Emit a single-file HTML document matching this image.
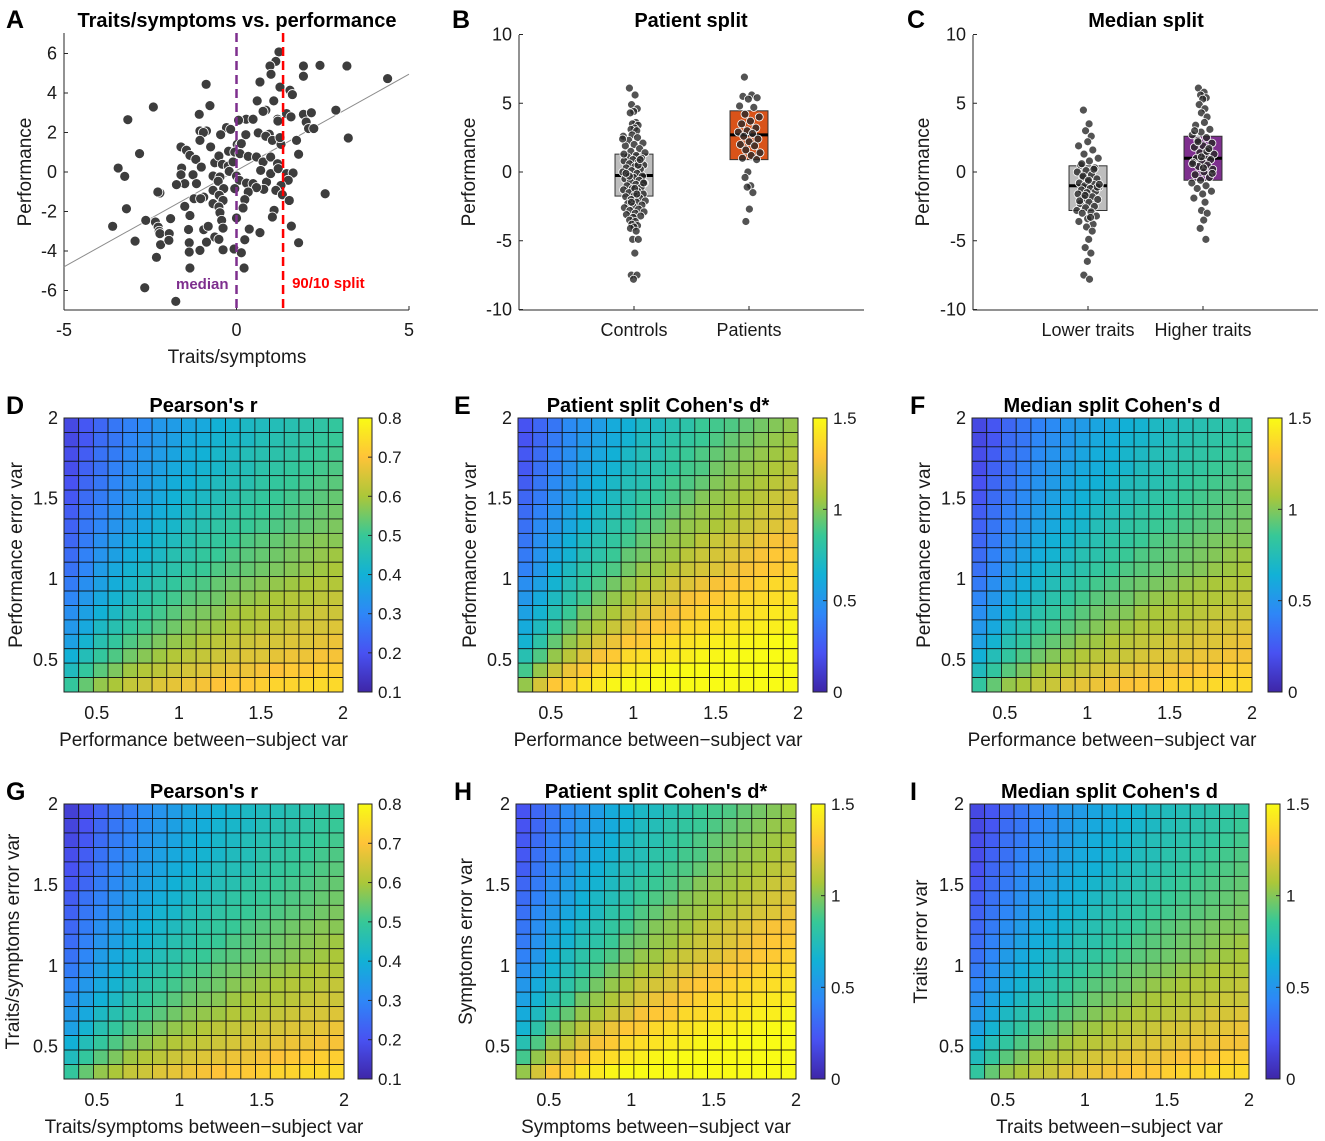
<!DOCTYPE html>
<html><head><meta charset="utf-8"><style>
html,body{margin:0;padding:0;background:#fff;}
svg{display:block;font-family:"Liberation Sans",Arial,sans-serif;}
</style></head><body>
<svg id="fig" width="1325" height="1141" viewBox="0 0 1325 1141" xmlns="http://www.w3.org/2000/svg"></svg>
<script>
// ---------- Panel A data ----------
const aX=[1.23,1.14,0.97,1.94,2.42,3.2,4.38,1.0,0.68,1.26,1.94,1.55,1.62,-0.88,-2.41,-3.15,-0.77,-1.08,0.6,1.08,0.85,0.77,1.45,1.58,1.94,2.17,2.88,2.02,2.09,2.24,3.24,1.19,1.2,0.28,0.48,0.06,-0.29,-0.17,-0.87,-1.06,-0.96,-0.46,0.27,0.63,0.95,0.85,1.74,-1.06,-1.61,-1.45,-0.75,0.02,0.1,0.14,1.04,1.29,1.26,-2.81,-1.35,-1.18,-1.02,-0.63,-0.51,-0.23,-0.05,0.1,0.34,0.58,0.77,0.99,1.19,1.8,-0.41,-0.24,-0.1,-3.43,-3.24,-1.59,-1.61,-1.26,-1.5,-1.74,-1.16,-0.68,-0.48,-0.53,-0.37,-0.21,0,0.08,0.29,0.48,0.7,0.87,0.99,1.21,1.45,1.64,1.5,1.29,1.14,0.79,0.58,0.34,-0.05,-0.68,-0.95,-1.23,-1.04,-0.5,-0.39,0.24,1.33,1.53,-2.22,-2.28,-1.5,-0.68,-0.51,-0.48,0.19,1.09,1.04,-3.19,-1.35,-1.91,-2.63,-2.35,-2.27,-2.24,-2.22,-1.95,-2.2,-1.96,-1.39,-0.95,-0.82,-0.43,-0.39,0,0.68,1.59,0.37,-0.63,-0.51,-0.87,-1.37,-3.59,-2.94,-1.06,-1.37,-0.39,-0.07,0.14,0.24,1.8,-2.32,-1.35,0.22,-2.66,-1.76,2.57];
const aY=[6.08,5.6,5.37,5.37,5.4,5.37,4.73,4.95,4.56,4.3,4.85,4.14,3.92,4.44,3.29,2.65,3.36,2.92,3.6,3.6,3.13,3.07,2.96,2.79,2.92,3.0,3.13,2.53,2.2,2.2,1.72,2.67,2.58,2.67,2.67,2.62,2.25,2.16,2.08,2.08,2.0,1.89,1.89,1.98,1.91,1.81,1.6,1.6,1.27,1.1,1.27,1.4,1.35,1.44,1.6,1.4,1.74,0.93,0.84,0.64,0.25,0.47,0.81,1.05,1.01,0.93,0.79,0.76,0.51,0.76,0.42,0.9,0.39,0.3,0.51,0.2,-0.22,0.2,-0.14,-0.14,-0.59,-0.64,-0.59,-0.2,-0.25,-0.47,-0.84,0.03,-0.2,-0.42,-0.56,-0.59,0.08,-0.51,-0.08,0.17,-0.08,-0.05,-0.42,-0.68,-0.93,-0.88,-0.79,-1.01,-0.84,-0.93,-1.27,-1.35,-1.35,-1.18,-1.44,-1.4,-1.15,-1.44,-1.06,-1.01,-1.74,-1.6,-1.77,-2.06,-1.82,-1.94,-2.28,-1.86,-2.2,-2.36,-2.45,-2.53,-2.79,-3.0,-3.12,-3.12,-3.68,-3.46,-2.91,-2.92,-2.75,-2.45,-2.84,-2.33,-3.07,-2.74,-2.89,-3.29,-3.41,-3.55,-3.58,-2.75,-3.5,-3.97,-4.05,-3.94,-3.9,-4.09,-3.43,-3.58,-4.32,-4.86,-4.86,-5.86,-6.55,-1.1];
const aLineX=[-5,5];
const aLineY=[-4.8,4.95];
const aMedianX=0;
const aSplitX=1.35;
const aXTicks=[-5,0,5];
const aYTicks=[-6,-4,-2,0,2,4,6];

// ---------- Panel B/C data ----------
const groupTicks=[-10,-5,0,5,10];
const bCategories=["Controls","Patients"];
const bControls=[6.1,5.6,4.9,4.6,4.4,4.3,3.6,3.5,3.4,3.2,3.1,3.0,2.7,2.6,2.5,2.3,2.1,2.0,1.9,1.7,1.5,1.4,1.2,1.1,1.0,0.9,0.8,0.7,0.6,0.5,0.4,0.3,0.2,0.1,0.0,-0.1,-0.2,-0.3,-0.4,-0.5,-0.6,-0.7,-0.8,-0.9,-1.0,-1.1,-1.2,-1.3,-1.4,-1.5,-1.6,-1.7,-1.8,-1.9,-2.0,-2.1,-2.2,-2.3,-2.4,-2.5,-2.6,-2.7,-2.8,-2.9,-3.0,-3.1,-3.2,-3.3,-3.5,-3.6,-3.8,-3.9,-4.0,-4.1,-4.3,-4.9,-4.9,-5.9,-7.5,-7.5,-7.8,1.3,0.5,-0.3,-0.8,-1.2,-0.1,0.9,-2.2,2.4,-1.6];
const bPatients=[6.9,5.6,5.5,5.4,5.3,4.8,4.7,4.2,4.0,3.7,3.5,3.2,3.0,2.9,2.8,2.6,2.4,2.2,2.0,1.9,1.6,1.4,1.2,1.0,0.9,0.0,-0.4,-1.0,-1.1,-1.5,-2.7,-3.6];
const bBoxQ1=[-1.75,0.9];
const bBoxMed=[-0.25,2.7];
const bBoxQ3=[1.3,4.45];
const cCategories=["Lower traits","Higher traits"];
const cLower=[4.5,3.5,3.0,2.6,2.2,1.9,1.6,1.3,1.0,0.8,0.5,0.3,0.1,0.0,-0.2,-0.4,-0.5,-0.7,-0.8,-0.9,-1.0,-1.1,-1.2,-1.3,-1.4,-1.5,-1.6,-1.8,-1.9,-2.0,-2.2,-2.3,-2.5,-2.6,-2.8,-2.9,-3.0,-3.2,-3.4,-3.6,-3.8,-4.0,-4.3,-4.9,-5.5,-5.9,-6.5,-7.5,-7.8,-0.3,-1.1,-0.6,-2.1,0.2,-1.7,-0.9,-3.3,0.6];
const cHigher=[6.1,5.8,5.6,5.4,5.3,4.9,4.6,4.3,4.0,3.6,3.4,3.1,2.9,2.7,2.5,2.3,2.1,1.9,1.8,1.6,1.4,1.3,1.2,1.0,0.9,0.8,0.7,0.5,0.4,0.2,0.0,-0.2,-0.4,-0.6,-0.8,-1.0,-1.2,-1.4,-1.6,-1.9,-2.2,-2.8,-3.0,-3.5,-4.1,-4.9,1.1,0.6,1.5,2.2,-0.1,0.3,3.0,1.7];
const cBoxQ1=[-2.8,-0.6];
const cBoxMed=[-1.0,1.0];
const cBoxQ3=[0.45,2.6];

// ---------- Heatmap data (rows top = var 2 to bottom = var 0.3) ----------
const heatAxisTicks=[0.5,1,1.5,2];
const rTicks=[0.1,0.2,0.3,0.4,0.5,0.6,0.7,0.8];
const dTicks=[0,0.5,1,1.5];
const dVals=[
[.18,.21,.24,.27,.29,.31,.34,.35,.37,.38,.40,.41,.43,.44,.45,.46,.47,.48,.49],
[.18,.21,.25,.27,.30,.32,.34,.36,.38,.39,.41,.42,.43,.45,.46,.47,.48,.49,.50],
[.19,.22,.26,.28,.31,.33,.35,.37,.39,.40,.42,.43,.45,.46,.47,.48,.49,.50,.51],
[.19,.23,.26,.29,.32,.34,.36,.38,.39,.41,.42,.44,.45,.47,.48,.49,.50,.51,.52],
[.20,.24,.27,.30,.33,.35,.37,.39,.40,.42,.44,.45,.46,.48,.49,.50,.51,.52,.53],
[.21,.25,.28,.31,.34,.36,.38,.40,.42,.43,.45,.46,.48,.49,.50,.51,.52,.53,.54],
[.22,.26,.29,.32,.35,.37,.39,.41,.43,.45,.46,.48,.49,.50,.51,.52,.53,.54,.55],
[.23,.27,.30,.33,.36,.38,.41,.42,.45,.46,.48,.49,.50,.51,.52,.53,.54,.55,.56],
[.24,.28,.32,.35,.38,.40,.42,.44,.46,.48,.49,.50,.52,.53,.54,.55,.56,.57,.57],
[.25,.29,.33,.36,.39,.41,.43,.46,.47,.49,.50,.52,.53,.54,.55,.56,.57,.58,.59],
[.26,.30,.35,.38,.41,.43,.45,.47,.49,.50,.52,.53,.54,.55,.56,.57,.58,.59,.60],
[.28,.32,.36,.39,.42,.45,.47,.49,.51,.52,.54,.55,.56,.57,.58,.59,.60,.61,.61],
[.30,.34,.38,.41,.44,.47,.49,.51,.53,.54,.55,.57,.58,.59,.60,.61,.61,.62,.63],
[.32,.36,.40,.43,.47,.49,.51,.53,.55,.56,.57,.59,.60,.61,.61,.62,.63,.64,.64],
[.34,.38,.43,.46,.49,.51,.53,.55,.57,.58,.59,.61,.61,.62,.63,.64,.65,.65,.66],
[.36,.41,.46,.49,.52,.54,.56,.58,.59,.61,.62,.63,.64,.65,.65,.66,.66,.67,.68],
[.40,.45,.49,.52,.55,.57,.59,.61,.62,.63,.64,.65,.66,.66,.67,.68,.68,.69,.69],
[.44,.49,.53,.56,.59,.61,.62,.64,.65,.66,.67,.68,.68,.69,.70,.71,.71,.72,.72],
[.49,.54,.58,.60,.63,.64,.66,.67,.68,.69,.70,.71,.71,.72,.73,.73,.74,.74,.74]];
const eVals=[
[.22,.30,.36,.45,.49,.54,.61,.64,.70,.72,.77,.80,.86,.88,.90,.94,.97,1.00,1.03],
[.22,.30,.38,.45,.51,.56,.61,.66,.72,.75,.80,.83,.86,.90,.94,.97,1.00,1.03,1.05],
[.24,.32,.41,.47,.54,.59,.64,.70,.75,.77,.83,.86,.90,.94,.97,1.00,1.03,1.05,1.08],
[.24,.34,.41,.49,.56,.61,.66,.72,.75,.80,.83,.88,.90,.97,1.00,1.03,1.05,1.08,1.11],
[.26,.36,.45,.51,.59,.64,.70,.75,.77,.83,.88,.90,.94,1.00,1.03,1.05,1.08,1.11,1.15],
[.30,.38,.47,.54,.61,.66,.72,.77,.83,.86,.90,.94,1.00,1.03,1.05,1.08,1.11,1.15,1.18],
[.32,.41,.49,.56,.64,.70,.75,.80,.86,.90,.94,1.00,1.03,1.05,1.08,1.11,1.15,1.18,1.20],
[.34,.45,.51,.59,.66,.72,.80,.83,.90,.94,1.00,1.03,1.05,1.08,1.11,1.15,1.18,1.20,1.24],
[.36,.47,.56,.64,.72,.77,.83,.88,.94,1.00,1.03,1.05,1.11,1.15,1.18,1.20,1.24,1.27,1.27],
[.38,.49,.59,.66,.75,.80,.86,.94,.97,1.03,1.05,1.11,1.15,1.18,1.20,1.24,1.27,1.30,1.31],
[.41,.51,.64,.72,.80,.86,.90,.97,1.03,1.05,1.11,1.15,1.18,1.20,1.24,1.27,1.30,1.31,1.34],
[.47,.56,.66,.75,.83,.90,.97,1.03,1.08,1.11,1.18,1.20,1.24,1.27,1.30,1.31,1.34,1.37,1.37],
[.51,.61,.72,.80,.88,.97,1.03,1.08,1.15,1.18,1.20,1.27,1.30,1.31,1.34,1.37,1.37,1.39,1.41],
[.56,.66,.77,.86,.97,1.03,1.08,1.15,1.20,1.24,1.27,1.31,1.34,1.37,1.37,1.39,1.41,1.43,1.43],
[.61,.72,.86,.94,1.03,1.08,1.15,1.20,1.27,1.30,1.31,1.37,1.37,1.39,1.41,1.43,1.45,1.45,1.48],
[.66,.80,.94,1.03,1.11,1.18,1.24,1.30,1.31,1.37,1.39,1.41,1.43,1.45,1.45,1.48,1.48,1.50,1.52],
[.77,.90,1.03,1.11,1.20,1.27,1.31,1.37,1.39,1.41,1.43,1.45,1.48,1.48,1.50,1.52,1.52,1.55,1.55],
[.88,1.03,1.15,1.24,1.31,1.37,1.39,1.43,1.45,1.48,1.50,1.52,1.52,1.55,1.56,1.58,1.58,1.60,1.60],
[1.03,1.18,1.30,1.34,1.41,1.43,1.48,1.50,1.52,1.55,1.56,1.58,1.58,1.60,1.61,1.61,1.64,1.64,1.64]];
const fVals=[
[.17,.23,.30,.36,.41,.45,.51,.53,.58,.60,.64,.66,.71,.73,.75,.77,.79,.81,.83],
[.17,.23,.32,.36,.43,.47,.51,.56,.60,.62,.66,.68,.71,.75,.77,.79,.81,.83,.86],
[.19,.26,.34,.38,.45,.49,.53,.58,.62,.64,.68,.71,.75,.77,.79,.81,.83,.86,.88],
[.19,.28,.34,.41,.47,.51,.56,.60,.62,.66,.68,.73,.75,.79,.81,.83,.86,.88,.90],
[.21,.30,.36,.43,.49,.53,.58,.62,.64,.68,.73,.75,.77,.81,.83,.86,.88,.90,.92],
[.23,.32,.38,.45,.51,.56,.60,.64,.68,.71,.75,.77,.81,.83,.86,.88,.90,.92,.94],
[.26,.34,.41,.47,.53,.58,.62,.66,.71,.75,.77,.81,.83,.86,.88,.90,.92,.94,.96],
[.28,.36,.43,.49,.56,.60,.66,.68,.75,.77,.81,.83,.86,.88,.90,.92,.94,.96,.98],
[.30,.38,.47,.53,.60,.64,.68,.73,.77,.81,.83,.86,.90,.92,.94,.96,.98,1.00,1.00],
[.32,.41,.49,.56,.62,.66,.71,.77,.79,.83,.86,.90,.92,.94,.96,.98,1.00,1.03,1.05],
[.34,.43,.53,.60,.66,.71,.75,.79,.83,.86,.90,.92,.94,.96,.98,1.00,1.03,1.05,1.07],
[.38,.47,.56,.62,.68,.75,.79,.83,.88,.90,.94,.96,.98,1.00,1.03,1.05,1.07,1.09,1.09],
[.43,.51,.60,.66,.73,.79,.83,.88,.92,.94,.96,1.00,1.03,1.05,1.07,1.09,1.09,1.11,1.13],
[.47,.56,.64,.71,.79,.83,.88,.92,.96,.98,1.00,1.05,1.07,1.09,1.09,1.11,1.13,1.15,1.15],
[.51,.60,.71,.77,.83,.88,.92,.96,1.00,1.03,1.05,1.09,1.09,1.11,1.13,1.15,1.18,1.18,1.20],
[.56,.66,.77,.83,.90,.94,.98,1.03,1.05,1.09,1.11,1.13,1.15,1.18,1.18,1.20,1.20,1.22,1.24],
[.64,.75,.83,.90,.96,1.00,1.05,1.09,1.11,1.13,1.15,1.18,1.20,1.20,1.22,1.24,1.24,1.26,1.26],
[.73,.83,.92,.98,1.05,1.09,1.11,1.15,1.18,1.20,1.22,1.24,1.24,1.26,1.28,1.30,1.30,1.33,1.33],
[.83,.94,1.03,1.07,1.13,1.15,1.20,1.22,1.24,1.26,1.28,1.30,1.30,1.33,1.35,1.35,1.37,1.37,1.37]];
const gVals=[
[.16,.19,.23,.26,.28,.31,.33,.35,.37,.38,.40,.41,.43,.44,.45,.46,.47,.48,.49],
[.17,.20,.24,.27,.29,.32,.34,.36,.38,.39,.41,.42,.43,.45,.46,.47,.48,.49,.50],
[.18,.21,.25,.28,.30,.33,.35,.37,.39,.40,.42,.43,.45,.46,.47,.48,.49,.50,.51],
[.19,.22,.26,.29,.31,.34,.36,.38,.39,.41,.42,.44,.45,.47,.48,.49,.50,.51,.52],
[.20,.23,.27,.30,.33,.35,.37,.39,.40,.42,.44,.45,.46,.48,.49,.50,.51,.52,.53],
[.21,.24,.28,.31,.34,.36,.38,.40,.42,.43,.45,.46,.48,.49,.50,.51,.52,.53,.54],
[.22,.26,.29,.32,.35,.37,.39,.41,.43,.45,.46,.48,.49,.50,.51,.52,.53,.54,.55],
[.23,.27,.30,.33,.36,.38,.41,.42,.45,.46,.48,.49,.50,.51,.52,.53,.54,.55,.56],
[.24,.28,.32,.35,.38,.40,.42,.44,.46,.48,.49,.50,.52,.53,.54,.55,.56,.57,.57],
[.25,.29,.33,.36,.39,.41,.43,.46,.47,.49,.50,.52,.53,.54,.55,.56,.57,.58,.59],
[.26,.30,.35,.38,.41,.43,.45,.47,.49,.50,.52,.53,.54,.55,.56,.57,.58,.59,.60],
[.28,.32,.36,.39,.42,.45,.47,.49,.51,.52,.54,.55,.56,.57,.58,.59,.60,.61,.61],
[.30,.34,.38,.41,.44,.47,.49,.51,.53,.54,.55,.57,.58,.59,.60,.61,.61,.62,.63],
[.32,.36,.40,.43,.47,.49,.51,.53,.55,.56,.57,.59,.60,.61,.61,.62,.63,.64,.64],
[.34,.38,.43,.46,.49,.51,.53,.55,.57,.58,.59,.61,.61,.62,.63,.64,.65,.65,.66],
[.36,.41,.46,.49,.52,.54,.56,.58,.59,.61,.62,.63,.64,.65,.65,.66,.66,.67,.68],
[.40,.45,.49,.52,.55,.57,.59,.61,.62,.63,.64,.65,.66,.66,.67,.68,.68,.69,.69],
[.44,.49,.53,.56,.59,.61,.62,.64,.65,.66,.67,.68,.68,.69,.70,.71,.71,.72,.72],
[.49,.54,.58,.60,.63,.64,.66,.67,.68,.69,.70,.71,.71,.72,.73,.73,.74,.74,.74]];
const hVals=[
[.22,.30,.36,.45,.49,.54,.61,.64,.70,.72,.77,.80,.86,.88,.90,.94,.97,1.00,1.03],
[.22,.30,.38,.45,.51,.56,.61,.66,.72,.75,.80,.83,.86,.90,.94,.97,1.00,1.03,1.05],
[.24,.32,.41,.47,.54,.59,.64,.70,.75,.77,.83,.86,.90,.94,.97,1.00,1.03,1.05,1.08],
[.24,.34,.41,.49,.56,.61,.66,.72,.75,.80,.83,.88,.90,.97,1.00,1.03,1.05,1.08,1.11],
[.26,.36,.45,.51,.59,.64,.70,.75,.77,.83,.88,.90,.94,1.00,1.03,1.05,1.08,1.11,1.15],
[.30,.38,.47,.54,.61,.66,.72,.77,.83,.86,.90,.94,1.00,1.03,1.05,1.08,1.11,1.15,1.18],
[.32,.41,.49,.56,.64,.70,.75,.80,.86,.90,.94,1.00,1.03,1.05,1.08,1.11,1.15,1.18,1.20],
[.34,.45,.51,.59,.66,.72,.80,.83,.90,.94,1.00,1.03,1.05,1.08,1.11,1.15,1.18,1.20,1.24],
[.36,.47,.56,.64,.72,.77,.83,.88,.94,1.00,1.03,1.05,1.11,1.15,1.18,1.20,1.24,1.27,1.27],
[.38,.49,.59,.66,.75,.80,.86,.94,.97,1.03,1.05,1.11,1.15,1.18,1.20,1.24,1.27,1.30,1.31],
[.41,.51,.64,.72,.80,.86,.90,.97,1.03,1.05,1.11,1.15,1.18,1.20,1.24,1.27,1.30,1.31,1.34],
[.47,.56,.66,.75,.83,.90,.97,1.03,1.08,1.11,1.18,1.20,1.24,1.27,1.30,1.31,1.34,1.37,1.37],
[.51,.61,.72,.80,.88,.97,1.03,1.08,1.15,1.18,1.20,1.27,1.30,1.31,1.34,1.37,1.37,1.39,1.41],
[.56,.66,.77,.86,.97,1.03,1.08,1.15,1.20,1.24,1.27,1.31,1.34,1.37,1.37,1.39,1.41,1.43,1.43],
[.61,.72,.86,.94,1.03,1.08,1.15,1.20,1.27,1.30,1.31,1.37,1.37,1.39,1.41,1.43,1.45,1.45,1.48],
[.66,.80,.94,1.03,1.11,1.18,1.24,1.30,1.31,1.37,1.39,1.41,1.43,1.45,1.45,1.48,1.48,1.50,1.52],
[.77,.90,1.03,1.11,1.20,1.27,1.31,1.37,1.39,1.41,1.43,1.45,1.48,1.48,1.50,1.52,1.52,1.55,1.55],
[.88,1.03,1.15,1.24,1.31,1.37,1.39,1.43,1.45,1.48,1.50,1.52,1.52,1.55,1.56,1.58,1.58,1.60,1.60],
[1.03,1.18,1.30,1.34,1.41,1.43,1.48,1.50,1.52,1.55,1.56,1.58,1.58,1.60,1.61,1.61,1.64,1.64,1.64]];
const iVals=[
[.17,.23,.30,.36,.41,.45,.51,.53,.58,.60,.64,.66,.71,.73,.75,.77,.79,.81,.83],
[.17,.23,.32,.36,.43,.47,.51,.56,.60,.62,.66,.68,.71,.75,.77,.79,.81,.83,.86],
[.19,.26,.34,.38,.45,.49,.53,.58,.62,.64,.68,.71,.75,.77,.79,.81,.83,.86,.88],
[.19,.28,.34,.41,.47,.51,.56,.60,.62,.66,.68,.73,.75,.79,.81,.83,.86,.88,.90],
[.21,.30,.36,.43,.49,.53,.58,.62,.64,.68,.73,.75,.77,.81,.83,.86,.88,.90,.92],
[.23,.32,.38,.45,.51,.56,.60,.64,.68,.71,.75,.77,.81,.83,.86,.88,.90,.92,.94],
[.26,.34,.41,.47,.53,.58,.62,.66,.71,.75,.77,.81,.83,.86,.88,.90,.92,.94,.96],
[.28,.36,.43,.49,.56,.60,.66,.68,.75,.77,.81,.83,.86,.88,.90,.92,.94,.96,.98],
[.30,.38,.47,.53,.60,.64,.68,.73,.77,.81,.83,.86,.90,.92,.94,.96,.98,1.00,1.00],
[.32,.41,.49,.56,.62,.66,.71,.77,.79,.83,.86,.90,.92,.94,.96,.98,1.00,1.03,1.05],
[.34,.43,.53,.60,.66,.71,.75,.79,.83,.86,.90,.92,.94,.96,.98,1.00,1.03,1.05,1.07],
[.38,.47,.56,.62,.68,.75,.79,.83,.88,.90,.94,.96,.98,1.00,1.03,1.05,1.07,1.09,1.09],
[.43,.51,.60,.66,.73,.79,.83,.88,.92,.94,.96,1.00,1.03,1.05,1.07,1.09,1.09,1.11,1.13],
[.47,.56,.64,.71,.79,.83,.88,.92,.96,.98,1.00,1.05,1.07,1.09,1.09,1.11,1.13,1.15,1.15],
[.51,.60,.71,.77,.83,.88,.92,.96,1.00,1.03,1.05,1.09,1.09,1.11,1.13,1.15,1.18,1.18,1.20],
[.56,.66,.77,.83,.90,.94,.98,1.03,1.05,1.09,1.11,1.13,1.15,1.18,1.18,1.20,1.20,1.22,1.24],
[.64,.75,.83,.90,.96,1.00,1.05,1.09,1.11,1.13,1.15,1.18,1.20,1.20,1.22,1.24,1.24,1.26,1.26],
[.73,.83,.92,.98,1.05,1.09,1.11,1.15,1.18,1.20,1.22,1.24,1.24,1.26,1.28,1.30,1.30,1.33,1.33],
[.83,.94,1.03,1.07,1.13,1.15,1.20,1.22,1.24,1.26,1.28,1.30,1.30,1.33,1.35,1.35,1.37,1.37,1.37]];

// ---------- drawing ----------
const NS="http://www.w3.org/2000/svg";
const svg=document.getElementById('fig');
function el(tag,attrs,parent){const e=document.createElementNS(NS,tag);for(const k in attrs)e.setAttribute(k,attrs[k]);(parent||svg).appendChild(e);return e;}
function txt(s,x,y,size,anchor,parent,extra){const t=el('text',Object.assign({x:x,y:y,'font-size':size,'text-anchor':anchor||'middle',fill:'#1a1a1a'},extra||{}),parent);t.textContent=s;return t;}
function grp(name){const g=el('g',{});return g;}
const PAR=[[62,38,168],[72,82,242],[46,135,247],[18,177,214],[55,200,151],[171,199,57],[254,195,56],[249,251,21]];
function parula(t){t=Math.max(0,Math.min(1,t));const p=t*(PAR.length-1);const i=Math.min(PAR.length-2,Math.floor(p));const f=p-i;const a=PAR[i],b=PAR[i+1];return 'rgb('+[0,1,2].map(k=>Math.round(a[k]+(b[k]-a[k])*f)).join(',')+')';}
const AX='#262626';

function panelLetter(s,x,y){const t=txt(s,x,y,25,'start',null,{'font-weight':'bold',fill:'#000'});}

// Panel A
(function(){
  const g=grp('panel-a-scatter');
  const L=64,R=409,T=33,B=310;
  const sx=v=>L+(v+5)/10*(R-L), sy=v=>172-v*19.75;
  el('line',{x1:L,y1:T,x2:L,y2:B,stroke:AX,'stroke-width':1},g);
  el('line',{x1:L,y1:B,x2:R,y2:B,stroke:AX,'stroke-width':1},g);
  aXTicks.forEach(v=>{el('line',{x1:sx(v),y1:B,x2:sx(v),y2:B-4,stroke:AX},g);txt(String(v),sx(v),B+26,18,'middle',g);});
  aYTicks.forEach(v=>{el('line',{x1:L,y1:sy(v),x2:L+4,y2:sy(v),stroke:AX},g);txt(String(v),L-7,sy(v)+6,18,'end',g);});
  const ln=el('line',{x1:sx(aLineX[0]),y1:sy(aLineY[0]),x2:sx(aLineX[1]),y2:sy(aLineY[1]),stroke:'#8c8c8c','stroke-width':1},g);
  
  aX.forEach((x,i)=>{const c=el('circle',{cx:sx(x),cy:sy(aY[i]),r:5,fill:'#3d3d3d',stroke:'#fff','stroke-width':0.8},g);
    });
  const m=el('line',{x1:sx(aMedianX),y1:T,x2:sx(aMedianX),y2:B,stroke:'#7e2f8e','stroke-width':2.5,'stroke-dasharray':'9,5'},g);
  
  const s=el('line',{x1:sx(aSplitX),y1:T,x2:sx(aSplitX),y2:B,stroke:'#ff0000','stroke-width':2.5,'stroke-dasharray':'9,5'},g);
  
  txt('median',sx(aMedianX)-8,289,15,'end',g,{'font-weight':'bold',fill:'#7e2f8e'});
  txt('90/10 split',sx(aSplitX)+9,288,15,'start',g,{'font-weight':'bold',fill:'#ff0000'});
  txt('Traits/symptoms vs. performance',237,27,20,'middle',g,{'font-weight':'bold',fill:'#000'});
  txt('Traits/symptoms',237,363,19,'middle',g);
  txt('Performance',0,0,19,'middle',g,{transform:'translate(31,172) rotate(-90)'});
})();
panelLetter('A',6,28);

function groupPanel(name,L,cats,groups,q1,med,q3,colors,title,tx){
  const g=grp(name);
  const T=35,B=310,R=L+345;
  const sx=v=>L+v*115, sy=v=>172-v*13.75;
  el('line',{x1:L,y1:T,x2:L,y2:B,stroke:AX},g);
  el('line',{x1:L,y1:B,x2:R,y2:B,stroke:AX},g);
  groupTicks.forEach(v=>{el('line',{x1:L,y1:sy(v),x2:L+4,y2:sy(v),stroke:AX},g);txt(String(v),L-7,sy(v)+6,18,'end',g);});
  cats.forEach((c,i)=>{el('line',{x1:sx(i+1),y1:B,x2:sx(i+1),y2:B-4,stroke:AX},g);txt(c,sx(i+1),B+26,18,'middle',g);});
  groups.forEach((vals,i)=>{
    const cx=i+1,hw=0.165;
    const b=el('rect',{x:sx(cx-hw),y:sy(q3[i]),width:sx(cx+hw)-sx(cx-hw),height:sy(q1[i])-sy(q3[i]),fill:colors[i],stroke:'#333','stroke-width':1},g);
    
    const m=el('line',{x1:sx(cx-hw),y1:sy(med[i]),x2:sx(cx+hw),y2:sy(med[i]),stroke:'#000','stroke-width':3},g);
    
    vals.forEach((v,j)=>{const dens=Math.abs(v-med[i])<3?0.2:0.08;const jit=((j*0.6180339)%1-0.5)*dens;
      const c=el('circle',{cx:sx(cx+jit),cy:sy(v),r:4,fill:'rgba(40,40,40,0.8)',stroke:'#fff','stroke-width':0.8},g);
      });
  });
  txt(title,tx,27,20,'middle',g,{'font-weight':'bold',fill:'#000'});
  txt('Performance',0,0,19,'middle',g,{transform:'translate('+(L-44)+',172) rotate(-90)'});
}
groupPanel('panel-b-patient-split',519,bCategories,[bControls,bPatients],bBoxQ1,bBoxMed,bBoxQ3,['#bdbdbd','#d95319'],'Patient split',691);
groupPanel('panel-c-median-split',973,cCategories,[cLower,cHigher],cBoxQ1,cBoxMed,cBoxQ3,['#bdbdbd','#7e2f8e'],'Median split',1146);
panelLetter('B',452,28);panelLetter('C',907,28);

function heat(name,vals,L,R,T,B,vmin,vmax,cbL,cbTicks,title,xlab,ylab,ylabX){
  const g=grp(name);
  const n=vals.length,m=vals[0].length;
  const cw=(R-L)/m,ch=(B-T)/n;
  vals.forEach((row,i)=>row.forEach((v,j)=>{
    const r=el('rect',{x:L+j*cw,y:T+i*ch,width:cw,height:ch,fill:parula((v-vmin)/(vmax-vmin)),stroke:'#111','stroke-width':0.8},g);
    
  }));
  el('rect',{x:L,y:T,width:R-L,height:B-T,fill:'none',stroke:AX,'stroke-width':1},g);
  const sx=v=>L+(v-0.3)/1.7*(R-L), sy=v=>B-(v-0.3)/1.7*(B-T);
  heatAxisTicks.forEach(v=>{txt(String(v),sx(v),B+27,18,'middle',g);txt(String(v),L-6,sy(v)+6,18,'end',g);});
  txt(title,(L+R)/2,T-6,20,'middle',g,{'font-weight':'bold',fill:'#000'});
  txt(xlab,(L+R)/2,B+54,19,'middle',g);
  txt(ylab,0,0,19,'middle',g,{transform:'translate('+ylabX+','+((T+B)/2)+') rotate(-90)'});
  const gid='cb'+name;
  const defs=el('defs',{},g);const lg=el('linearGradient',{id:gid,x1:0,y1:1,x2:0,y2:0},defs);
  PAR.forEach((c,k)=>el('stop',{offset:k/(PAR.length-1),'stop-color':'rgb('+c.join(',')+')'},lg));
  const cb=el('rect',{x:cbL,y:T,width:14,height:B-T,fill:'url(#'+gid+')',stroke:AX,'stroke-width':1},g);
  
  cbTicks.forEach(v=>{const y=B-(v-vmin)/(vmax-vmin)*(B-T);el('line',{x1:cbL+14,y1:y,x2:cbL+10,y2:y,stroke:AX},g);txt(String(v),cbL+20,y+6,17,'start',g);});
}
heat('heatmap-d-pearson',dVals,64,343,418,692,0.1,0.8,358,rTicks,"Pearson's r",'Performance between\u2212subject var','Performance error var',22);
heat('heatmap-e-patient-d',eVals,518,798,418,692,0,1.5,813,dTicks,"Patient split Cohen's d*",'Performance between\u2212subject var','Performance error var',476);
heat('heatmap-f-median-d',fVals,972,1252,418,692,0,1.5,1268,dTicks,"Median split Cohen's d",'Performance between\u2212subject var','Performance error var',930);
heat('heatmap-g-pearson',gVals,64,344,804,1079,0.1,0.8,358,rTicks,"Pearson's r",'Traits/symptoms between\u2212subject var','Traits/symptoms error var',19);
heat('heatmap-h-patient-d',hVals,516,796,804,1079,0,1.5,811,dTicks,"Patient split Cohen's d*",'Symptoms between\u2212subject var','Symptoms error var',472);
heat('heatmap-i-median-d',iVals,970,1249,804,1079,0,1.5,1266,dTicks,"Median split Cohen's d",'Traits between\u2212subject var','Traits error var',927);
panelLetter('D',6,414);panelLetter('E',454,414);panelLetter('F',910,414);
panelLetter('G',6,800);panelLetter('H',454,800);panelLetter('I',910,800);
</script>
</body></html>
